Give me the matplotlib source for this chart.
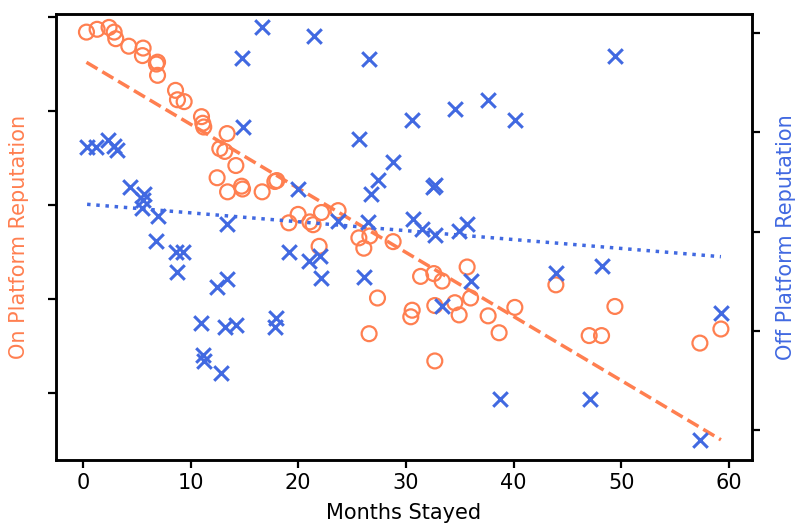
import numpy as np
import matplotlib
matplotlib.use("Agg")
from matplotlib import pyplot as plt

# on platform reputation (left axis)
meses_on = [0.34, 1.33, 2.44, 2.91, 3.06, 4.27, 5.60, 5.54, 6.94, 6.84, 6.94,
            8.61, 8.79, 9.41, 11.02, 11.14, 11.23, 13.40, 12.72, 13.18, 14.21,
            12.47, 13.44, 14.74, 14.83, 16.65, 17.83, 18.01, 19.99, 19.13,
            21.08, 21.38, 22.16, 23.70, 25.63, 26.65, 26.09, 28.81, 21.94,
            27.36, 26.58, 31.36, 32.59, 33.36, 35.68, 30.58, 30.45, 32.68,
            34.54, 34.94, 36.00, 37.63, 38.65, 40.11, 32.68, 43.92, 49.40,
            47.01, 48.16, 57.29, 59.24]
rep_on = [4.84, 4.87, 4.89, 4.84, 4.77, 4.69, 4.67, 4.59, 4.52, 4.50, 4.38,
          4.22, 4.12, 4.10, 3.94, 3.87, 3.83, 3.76, 3.60, 3.57, 3.42,
          3.29, 3.14, 3.20, 3.17, 3.14, 3.25, 3.26, 2.90, 2.81,
          2.82, 2.79, 2.92, 2.94, 2.65, 2.67, 2.54, 2.61, 2.56,
          2.01, 1.63, 2.24, 2.27, 2.19, 2.34, 1.88, 1.81, 1.93,
          1.96, 1.83, 2.01, 1.82, 1.64, 1.91, 1.34, 2.15, 1.92,
          1.61, 1.61, 1.53, 1.68]

# off platform reputation (right axis)
meses_off = [0.40, 1.27, 2.35, 2.92, 3.13, 4.36, 5.69, 5.60, 5.51, 6.94, 6.84,
             8.61, 9.31, 8.79, 12.47, 13.40, 11.02, 13.18, 14.21, 11.17,
             11.26, 12.79, 13.42, 14.79, 16.65, 14.83, 17.98, 17.83, 19.99,
             21.45, 26.58, 25.63, 30.52, 34.54, 37.63, 40.11, 28.81, 27.42,
             26.74, 32.53, 32.73, 23.70, 26.49, 30.61, 31.45, 32.68, 34.91,
             35.63, 19.13, 20.98, 22.01, 22.10, 26.09, 33.36, 36.00, 38.72,
             43.92, 48.16, 59.24, 47.07, 57.29, 49.40]
rep_off = [3.85, 3.85, 3.92, 3.86, 3.82, 3.45, 3.38, 3.32, 3.24, 3.16, 2.90,
           2.79, 2.79, 2.59, 2.44, 2.52, 2.08, 2.04, 2.06, 1.76,
           1.69, 1.57, 3.08, 4.75, 5.06, 4.05, 2.13, 2.04, 3.43,
           4.97, 4.74, 3.93, 4.12, 4.23, 4.33, 4.12, 3.70, 3.52,
           3.38, 3.45, 3.47, 3.11, 3.10, 3.13, 3.03, 2.96, 3.01,
           3.08, 2.79, 2.70, 2.75, 2.53, 2.54, 2.25, 2.50, 1.31,
           2.58, 2.65, 2.18, 1.31, 0.90, 4.77]

color_on = "#FF7F50"
color_off = "#4169E1"

plt.rcParams["font.size"] = 15

fig, ax = plt.subplots(figsize=(7.98, 5.28), dpi=100)
fig.subplots_adjust(left=0.070, right=0.942, top=0.973, bottom=0.129)
ax2 = ax.twinx()

ax.scatter(meses_on, rep_on, s=115, facecolors="none", edgecolors=color_on, linewidths=1.6)
ax2.scatter(meses_off, rep_off, s=110, marker="x", color=color_off, linewidths=2.2)

# lineas de tendencia (ajuste lineal)
x_on = np.array(meses_on)
p_on = np.polyfit(x_on, rep_on, 1)
xx = np.array([x_on.min(), x_on.max()])
ax.plot(xx, np.polyval(p_on, xx), "--", color=color_on, linewidth=2.5)

x_off = np.array(meses_off)
p_off = np.polyfit(x_off, rep_off, 1)
xx2 = np.array([x_off.min(), x_off.max()])
ax2.plot(xx2, np.polyval(p_off, xx2), ":", color=color_off, linewidth=2.5)

ax.set_xlim(-2.5, 62.1)
ax.set_ylim(0.287, 5.03)
ax2.set_ylim(0.698, 5.19)
ax.set_yticks([1, 2, 3, 4, 5])
ax2.set_yticks([1, 2, 3, 4, 5])
ax.set_yticklabels([])
ax2.set_yticklabels([])
ax.set_xticks([0, 10, 20, 30, 40, 50, 60])

for a in (ax, ax2):
    for s in a.spines.values():
        s.set_linewidth(1.8)
    a.tick_params(width=1.6, length=6)

ax.set_xlabel("Months Stayed", labelpad=7)
ax.set_ylabel("On Platform Reputation", color=color_on, labelpad=10)
ax2.set_ylabel("Off Platform Reputation", color=color_off, labelpad=8)

plt.savefig("out.png", dpi=100)
